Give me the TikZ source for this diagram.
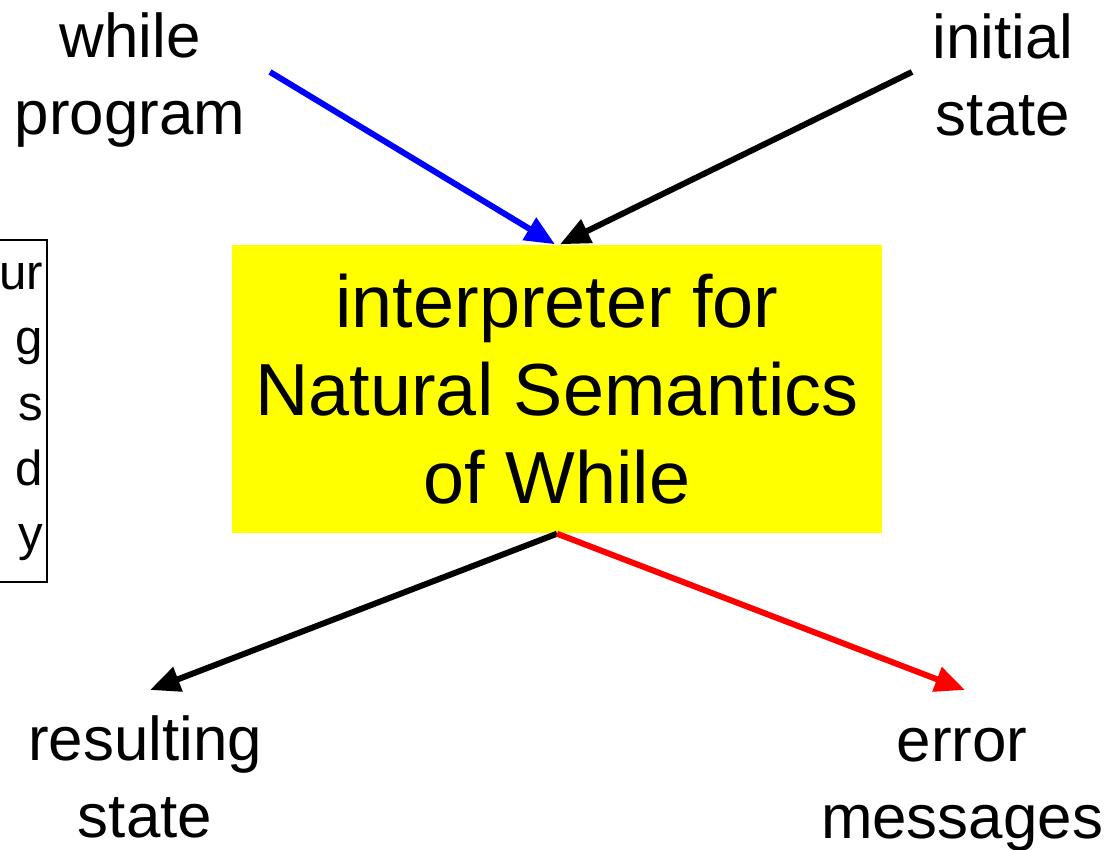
\documentclass[tikz,border=0pt]{standalone}
\usepackage{fontspec}
\setmainfont{Liberation Sans}
\usetikzlibrary{arrows.meta}
\definecolor{boxyellow}{RGB}{255,255,0}

\begin{document}
\begin{tikzpicture}[scale=1,
    lbl/.style={align=center, font=\fontsize{17.6pt}{22pt}\selectfont},
    flow/.style={line width=1.7pt, -{Triangle[length=0.3cm,width=0.25cm]}}]
      % \draw[help lines, gray!50, very thin] (0,0) grid (11,-8);
      \useasboundingbox (0,0) rectangle (11.15,-8.5);

      % clipped side note
      \begin{scope}
        \clip (0,0) rectangle (11.15,-8.5);
        \draw[line width=0.5pt] (-1,-2.40) rectangle (0.47,-5.82);
      \end{scope}
      \node[anchor=east, align=right, inner sep=0pt,
            font=\fontsize{14pt}{18.6pt}\selectfont] (note) at (0.44,-4.12)
            {ur\\g\\s\\d\\y};

      \node[fill=boxyellow, minimum width=6.5cm, minimum height=2.88cm, align=center,
            font=\fontsize{21pt}{25pt}\selectfont] (interp) at (5.57,-3.89)
            {interpreter for\\Natural Semantics\\of While};

      \node[lbl] (prog) at (1.30,-0.80) {while\\program};
      \node[lbl] (init) at (10.03,-0.75) {initial\\state};
      \node[lbl] (result) at (1.45,-7.77) {resulting\\state};
      \node[lbl] (errors) at (9.62,-7.90) {error\\messages};

      \coordinate (progend) at (2.70,-0.72);
      \coordinate (initend) at (9.12,-0.72);
      \coordinate (resultend) at (1.50,-6.90);
      \coordinate (errorsend) at (9.65,-6.90);

      \draw[flow, blue] (progend) -- ([xshift=-0.02cm]interp.north);
      \draw[flow, black] (initend) -- ([xshift=0.03cm]interp.north);
      \draw[flow, black] (interp.south) -- (resultend);
      \draw[flow, red] (interp.south) -- (errorsend);
\end{tikzpicture}
\end{document}
